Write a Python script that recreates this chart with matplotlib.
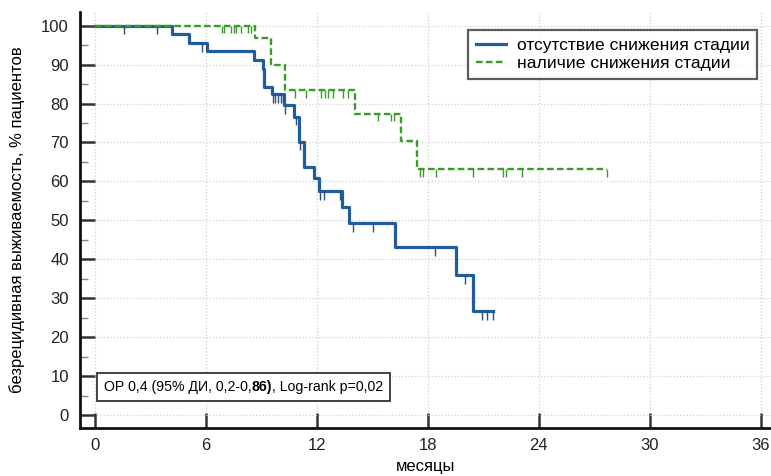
import matplotlib
matplotlib.use('Agg')
import matplotlib.pyplot as plt
import numpy as np
from matplotlib.patches import Rectangle

plt.rcParams['font.family'] = ['Liberation Sans', 'DejaVu Sans']

# отсутствие снижения стадии: моменты событий и доля без рецидива
blue_t = [0, 4.15, 5.08, 6.07, 8.58, 9.07, 9.16, 9.55, 10.24, 10.78, 11.05,
          11.32, 11.82, 12.1, 13.35, 13.75, 16.23, 19.55, 20.45, 21.5]
blue_s = [100, 97.9, 95.5, 93.4, 91.2, 88.8, 84.2, 82.4, 79.6, 76.6, 70.2,
          63.8, 60.8, 57.5, 53.4, 49.3, 43.1, 35.9, 26.7, 26.7]
blue_cens = [1.57, 3.36, 5.77, 9.6, 9.75, 9.9, 10.05, 10.15, 10.28, 10.85,
             11.1, 12.18, 12.4, 13.26, 13.98, 15.06, 18.4, 20.0, 20.95, 21.2, 21.5]

# наличие снижения стадии
green_t = [0, 8.65, 9.51, 10.27, 14.05, 16.54, 17.44, 27.7]
green_s = [100, 96.7, 90.0, 83.4, 77.4, 70.3, 63.2, 63.2]
green_cens = [6.85, 7.0, 7.35, 7.5, 7.65, 7.9, 8.3, 8.45, 10.83, 11.41, 12.22,
              12.45, 12.61, 12.88, 13.39, 13.66, 15.3, 16.0, 16.18, 17.58,
              17.76, 18.46, 20.45, 22.07, 22.25, 23.1, 27.7]

labels = ['отсутствие снижения стадии', 'наличие снижения стадии']
x_ticks = [0, 6, 12, 18, 24, 30, 36]
y_ticks = list(range(0, 101, 10))

blue = '#215d9c'
green = '#3a9a2a'


def level_at(t, times, surv):
    idx = np.searchsorted(times, t, side='right') - 1
    return np.asarray(surv)[idx]


fig = plt.figure(figsize=(7.71, 4.76), dpi=100)
ax = fig.add_axes([0.1038, 0.1008, 0.8962, 0.874])

ax.step(blue_t, blue_s, where='post', color=blue, lw=2.3, label=labels[0], zorder=3)
ax.step(green_t, green_s, where='post', color=green, lw=1.7, dashes=(2.8, 1.4),
        label=labels[1], zorder=4)

# цензурированные наблюдения - короткие штрихи вниз
bl = level_at(blue_cens, blue_t, blue_s)
ax.vlines(blue_cens, bl - 2.2, bl, color='#2a4f80', lw=1.0, zorder=3)
gl = level_at(green_cens, green_t, green_s)
ax.vlines(green_cens, gl - 2.0, gl, color=green, lw=1.0, zorder=4)

ax.set_xlim(-0.81, 36.56)
ax.set_ylim(-3.34, 103.5)
ax.set_xticks(x_ticks)
ax.set_yticks(y_ticks)
ax.set_yticks(np.arange(5, 100, 10), minor=True)
ax.tick_params(axis='both', which='major', direction='in', length=11, width=1.8,
               color='#333333', labelsize=12, labelcolor='#222222', pad=8)
ax.tick_params(axis='y', which='minor', direction='in', length=6, width=1.0,
               color='#888888')
ax.tick_params(axis='x', which='major', pad=7)

for side in ['top', 'right']:
    ax.spines[side].set_visible(False)
for side in ['left', 'bottom']:
    ax.spines[side].set_linewidth(2.0)
    ax.spines[side].set_color('#111111')

ax.grid(True, which='major', color='#d0d0d0', linestyle=':', linewidth=0.9)
ax.set_axisbelow(True)

ax.set_xlabel('месяцы', fontsize=12)
ax.xaxis.set_label_coords(0.5, -0.075)
ax.set_ylabel('безрецидивная выживаемость, % пациентов', fontsize=12)
ax.yaxis.set_label_coords(-0.08, 0.5)

leg = ax.legend(loc='upper right', bbox_to_anchor=(0.98, 0.957), fontsize=12.6,
                frameon=True, fancybox=False, handlelength=1.7, borderaxespad=0,
                borderpad=0.45, labelspacing=0.15, handletextpad=0.6)
leg.get_frame().set_edgecolor('#333333')
leg.get_frame().set_linewidth(1.6)

# подпись с частично жирным текстом
t1 = ax.text(0.034, 0.081, 'ОР 0,4 (95% ДИ, 0,2-0,', transform=ax.transAxes,
             fontsize=10.2, va='bottom', ha='left', zorder=6)
t2 = ax.annotate('86)', xy=(1, 0), xycoords=t1, va='bottom', ha='left',
                 fontsize=10.2, fontweight='bold', zorder=6)
t3 = ax.annotate(', Log-rank p=0,02', xy=(1, 0), xycoords=t2, va='bottom',
                 ha='left', fontsize=10.2, zorder=6)
fig.canvas.draw()
r = fig.canvas.get_renderer()
boxes = [t.get_window_extent(r) for t in (t1, t2, t3)]
x0 = min(b.x0 for b in boxes) - 7
x1 = max(b.x1 for b in boxes) + 7
y0 = min(b.y0 for b in boxes) - 7
y1 = max(b.y1 for b in boxes) + 7
inv = ax.transAxes.inverted()
(ax0, ay0), (ax1, ay1) = inv.transform([(x0, y0), (x1, y1)])
ax.add_patch(Rectangle((ax0, ay0), ax1 - ax0, ay1 - ay0, transform=ax.transAxes,
                       facecolor='white', edgecolor='#333333', lw=1.3, zorder=5))

fig.savefig('out.png', dpi=100)
